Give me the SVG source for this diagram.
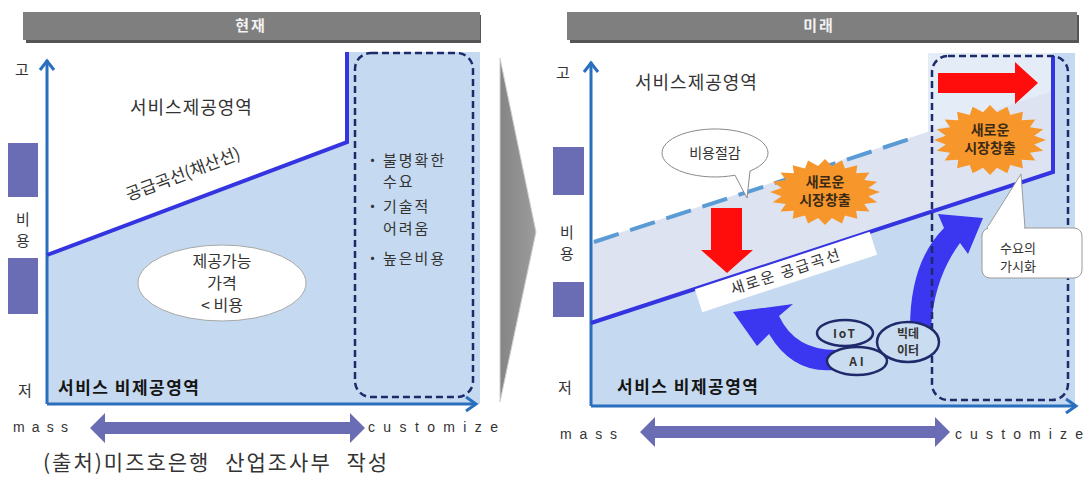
<svg xmlns="http://www.w3.org/2000/svg" width="1085" height="481" viewBox="0 0 1085 481">
<defs>
<style>
.kr{font-family:"Noto Sans CJK KR","Noto Sans",sans-serif;fill:#333;}
.f15{font-size:15px}
.f16{font-size:16px}
.f17{font-size:17px}
.f18{font-size:18px;letter-spacing:1px}
.blt{font-size:15px;letter-spacing:2px}
.bold{font-weight:bold;fill:#151515}
.mid{text-anchor:middle}
.en{font-family:"Liberation Sans",Arial,sans-serif;font-size:14px;fill:#333}
.bar{fill:#7f7f7f}
.barsh{fill:#555}
.ttl{font-family:"Noto Sans CJK KR",sans-serif;font-size:15px;font-weight:bold;fill:#f2f2f2;text-anchor:middle;letter-spacing:2px}
.axis{stroke:#2a6fbd;stroke-width:3;fill:none}
.supply{stroke:#3434e0;stroke-width:4;fill:none;stroke-linejoin:miter}
.dbox{fill:none;stroke:#1f2a6b;stroke-width:2.5;stroke-dasharray:7 4}
.cost{fill:#6a6db4}
.dbl{fill:#6a6db4}
.burst{fill:#f7962b}
.bt{font-family:"Noto Sans CJK KR",sans-serif;font-size:14px;font-weight:bold;fill:#3b2a14;text-anchor:middle}
.tech{fill:#c9dcf0;stroke:#1f2a6b;stroke-width:2.5}
.techt{font-family:"Noto Sans CJK KR","Liberation Sans",sans-serif;font-size:12px;font-weight:bold;fill:#333;text-anchor:middle}
.curv{fill:#3b36f0}
.red{fill:#ff0d0d}
.bubble{fill:#fff;stroke:#8a8a8a;stroke-width:1}
</style>
<linearGradient id="chev" x1="0" y1="0" x2="1" y2="0">
<stop offset="0" stop-color="#858585"/><stop offset="1" stop-color="#9c9c9c"/>
</linearGradient>
<path id="burstshape" d="M1,0 L.79,.125 L.951,.309 L.713,.363 L.809,.588 L.566,.566 L.588,.809 L.363,.713 L.309,.951 L.125,.79 L0,1 L-.125,.79 L-.309,.951 L-.363,.713 L-.588,.809 L-.566,.566 L-.809,.588 L-.713,.363 L-.951,.309 L-.79,.125 L-1,0 L-.79,-.125 L-.951,-.309 L-.713,-.363 L-.809,-.588 L-.566,-.566 L-.588,-.809 L-.363,-.713 L-.309,-.951 L-.125,-.79 L0,-1 L.125,-.79 L.309,-.951 L.363,-.713 L.588,-.809 L.566,-.566 L.809,-.588 L.713,-.363 L.951,-.309 L.79,-.125 Z"/>
</defs>
<rect width="1085" height="481" fill="#fff"/>

<g id="left-areas">
<polygon points="47,255 347,142 347,52 480,52 480,404 47,404" fill="#c5daf0"/>
</g>

<g id="right-areas">
<rect x="928" y="53" width="147" height="353" fill="#e4ecf7"/>
<polygon points="591,242 1053,91 1053,172 591,323" fill="#dde3f0"/>
<polygon points="591,323 1053,172 1053,53 1075,53 1075,406 591,406" fill="#c5daf0"/>
</g>

<g id="title-now">
<rect class="barsh" x="26" y="15" width="455" height="28"/>
<rect class="bar" x="23" y="12" width="457" height="28"/>
<text class="ttl" x="251" y="31">현재</text>
</g>
<g id="title-future">
<rect class="barsh" x="570" y="15" width="509" height="28"/>
<rect class="bar" x="567" y="12" width="510" height="28"/>
<text class="ttl" x="819" y="31">미래</text>
</g>

<g id="transition-arrow">
<polygon points="500,58 536,232 500,402" fill="url(#chev)" stroke="#d0d0d0" stroke-width="1"/>
</g>

<g id="connectors">
<line class="axis" x1="47" y1="404" x2="47" y2="60"/>
<polyline class="axis" points="40,70 47,61 54,70"/>
<line class="axis" x1="47" y1="404" x2="476" y2="404"/>
<polyline class="axis" points="466,397 476,404 466,411"/>
<polyline class="supply" points="47,255 347,142 347,52"/>
<line class="axis" x1="591" y1="406" x2="591" y2="62"/>
<polyline class="axis" points="584,72 591,63 598,72"/>
<line class="axis" x1="591" y1="406" x2="1076" y2="406"/>
<polyline class="axis" points="1066,399 1076,406 1066,413"/>
<line x1="594" y1="242" x2="913" y2="138" stroke="#5b9bd5" stroke-width="4" stroke-dasharray="26 12"/>
<polyline class="supply" points="591,323 1053,172 1053,56"/>
<polygon class="dbl" points="90,428 105,413 105,422 350,422 350,413 365,428 350,443 350,434 105,434 105,443"/>
<polygon class="dbl" points="640,432 655,417 655,426 935,426 935,417 950,432 935,447 935,438 655,438 655,447"/>
<polygon class="red" points="711,208 742,208 742,250 753,250 727,273 701,250 711,250"/>
<polygon class="red" points="938,73 1015,73 1015,62 1038,83 1015,104 1015,93 938,93"/>
<path class="curv" d="M836,350 Q795,350 779,316 L793,304 L733,312 L757,346 L769,334 Q793,374 834,370 Z"/>
<path class="curv" d="M910,328 Q910,262 944,228 L938,214 L983,218 L968,254 L960,243 Q934,278 931,328 Z"/>
</g>

<g id="cost-axis-left">
<rect class="cost" x="8" y="143" width="30" height="54"/>
<rect class="cost" x="8" y="258" width="30" height="56"/>
<text class="kr f15 mid" x="23" y="225">비</text>
<text class="kr f15 mid" x="23" y="246">용</text>
<text class="kr f15 mid" x="22" y="75">고</text>
<text class="kr f15 mid" x="25" y="396">저</text>
</g>
<g id="service-area-left">
<text class="kr f18" x="130" y="114">서비스제공영역</text>
</g>
<g id="supply-label-left">
<text class="kr f17 mid" x="183" y="180" transform="rotate(-20.6 183 174)">공급곡선(채산선)</text>
</g>
<g id="price-ellipse">
<ellipse cx="222" cy="283" rx="84" ry="38" fill="#fff" stroke="#a8a8a8" stroke-width="1"/>
<text class="kr f16 mid" x="222" y="267">제공가능</text>
<text class="kr f16 mid" x="222" y="289">가격</text>
<text class="kr f16 mid" x="222" y="311">&lt; 비용</text>
</g>
<g id="custom-box-left">
<rect class="dbox" x="355" y="53" width="118" height="344" rx="16"/>
<text class="kr blt" x="365" y="166">・<tspan x="383">불명확한</tspan></text>
<text class="kr blt" x="383" y="187">수요</text>
<text class="kr blt" x="365" y="212">・<tspan x="383">기술적</tspan></text>
<text class="kr blt" x="383" y="234">어려움</text>
<text class="kr blt" x="365" y="264">・<tspan x="383">높은비용</tspan></text>
</g>
<g id="nonservice-left">
<text class="kr f17 bold" x="58" y="394" letter-spacing="1.5">서비스 비제공영역</text>
</g>
<g id="mass-custom-left">
<text class="en" x="13" y="432" textLength="55" lengthAdjust="spacing">mass</text>
<text class="en" x="368" y="432" textLength="130" lengthAdjust="spacing">customize</text>
</g>
<g id="source">
<text class="kr" x="43" y="470" font-size="21" letter-spacing="2" word-spacing="8">(출처)미즈호은행 산업조사부 작성</text>
</g>

<g id="cost-axis-right">
<rect class="cost" x="553" y="147" width="31" height="48"/>
<rect class="cost" x="553" y="282" width="31" height="35"/>
<text class="kr f15 mid" x="567" y="238">비</text>
<text class="kr f15 mid" x="567" y="259">용</text>
<text class="kr f15 mid" x="563" y="78">고</text>
<text class="kr f15 mid" x="565" y="393">저</text>
</g>
<g id="service-area-right">
<text class="kr f18" x="635" y="89">서비스제공영역</text>
</g>
<g id="custom-box-right">
<rect class="dbox" x="932" y="56" width="136" height="344" rx="16"/>
</g>
<g id="cost-cut">
<path class="bubble" d="M735,175.2 A53,24 0 1 1 750,171 L747,198 Z"/>
<text class="kr mid" x="715" y="158" font-size="14" fill="#222">비용절감</text>
</g>
<g id="new-supply-label">
<g transform="rotate(-18.2 786 272)">
<rect x="694" y="260" width="184" height="24" fill="#fff"/>
<text class="kr mid" x="786" y="277" font-size="15" letter-spacing="2">새로운 공급곡선</text>
</g>
</g>
<g id="new-market-1">
<use href="#burstshape" class="burst" transform="translate(825,192) scale(55,33)"/>
<text class="bt" x="825" y="187">새로운</text>
<text class="bt" x="825" y="205">시장창출</text>
</g>
<g id="new-market-2">
<use href="#burstshape" class="burst" transform="translate(990,140) scale(56,35)"/>
<text class="bt" x="990" y="135">새로운</text>
<text class="bt" x="990" y="153">시장창출</text>
</g>
<g id="demand-visual">
<path d="M987,228 L1021,174 L1025,228" fill="#fff" stroke="#9a9a9a" stroke-width="1"/>
<rect x="982" y="228" width="100" height="50" rx="8" fill="#fff" stroke="#9a9a9a" stroke-width="1"/>
<rect x="988" y="226" width="36" height="4" fill="#fff"/>
<text class="kr mid" x="1018" y="253" font-size="13">수요의</text>
<text class="kr mid" x="1018" y="271" font-size="13">가시화</text>
</g>
<g id="tech-iot">
<ellipse class="tech" cx="845" cy="333" rx="28" ry="13"/>
<text class="techt" x="845" y="338" letter-spacing="2">IoT</text>
</g>
<g id="tech-ai">
<ellipse class="tech" cx="857" cy="361" rx="30" ry="14"/>
<text class="techt" x="858" y="366" letter-spacing="3">AI</text>
</g>
<g id="tech-bigdata">
<ellipse class="tech" cx="908" cy="342" rx="31" ry="20"/>
<text class="techt" x="908" y="338" font-weight="normal">빅데</text>
<text class="techt" x="908" y="355" font-weight="normal">이터</text>
</g>
<g id="nonservice-right">
<text class="kr f17 bold" x="617" y="393" letter-spacing="1.5">서비스 비제공영역</text>
</g>
<g id="mass-custom-right">
<text class="en" x="560" y="439" textLength="57" lengthAdjust="spacing">mass</text>
<text class="en" x="955" y="439" textLength="128" lengthAdjust="spacing">customize</text>
</g>
</svg>
